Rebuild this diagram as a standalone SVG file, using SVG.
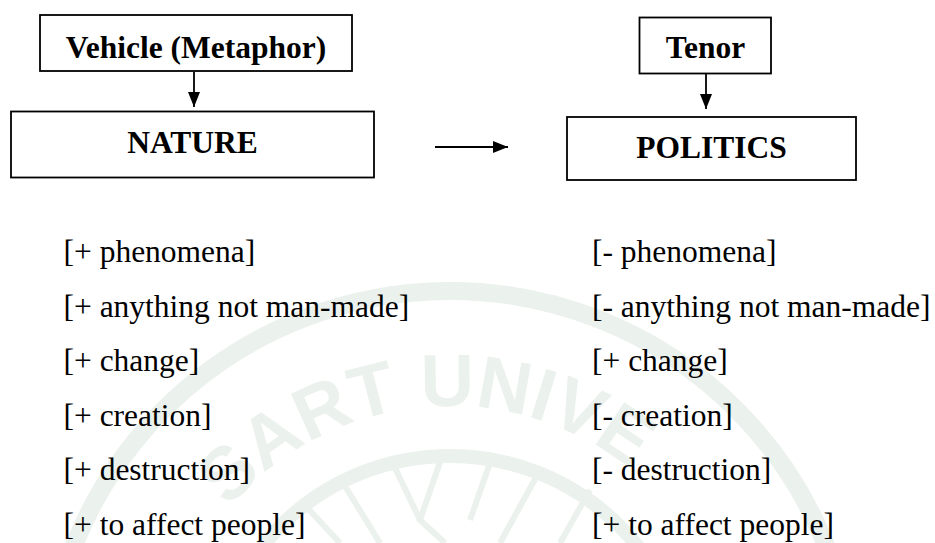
<svg xmlns="http://www.w3.org/2000/svg" width="935" height="543" viewBox="0 0 935 543">
  <style>
    .box { fill: none; stroke: #000; stroke-width: 1.8; }
    .head { font-family: "Liberation Serif", "Times New Roman", serif; font-weight: bold; font-size: 31.5px; fill: #000; text-anchor: middle; }
    .item { font-family: "Liberation Serif", "Times New Roman", serif; font-size: 31.5px; fill: #000; }
    .wire { stroke: #000; stroke-width: 1.8; fill: none; }
    .seal { fill: none; stroke: #ebf1ec; }
    .sealtext { font-family: "Liberation Sans", Arial, sans-serif; font-weight: bold; font-size: 74px; fill: #ebf1ec; text-anchor: middle; }
  </style>
  <defs>
    <marker id="arrow" markerUnits="userSpaceOnUse" markerWidth="16" markerHeight="14" refX="15" refY="6" orient="auto">
      <path d="M0,0 L15,6 L0,12 Z" fill="#000"/>
    </marker>
    <path id="sealArc" d="M160,696 A290,290 0 0 1 740,696"/>
  </defs>

  <rect width="935" height="543" fill="#fff"/>

  <!-- faint seal in the background -->
  <g id="seal">
    <circle class="seal" cx="450" cy="696" r="405" stroke-width="18"/>
    <circle class="seal" cx="450" cy="696" r="240" stroke-width="14"/>
    <text class="sealtext"><textPath href="#sealArc" startOffset="47%">SART UNIVE</textPath></text>
    <path class="seal" stroke-width="6" d="M300,500 L340,543 M340,478 L380,543 M395,468 L420,520 M440,462 L420,520 L445,543 M490,463 L470,520 M540,470 L500,543 M590,490 L560,543"/>
  </g>

  <!-- nodes -->
  <g id="vehicle">
    <rect class="box" x="40" y="15" width="312" height="56"/>
    <text class="head" x="196" y="58">Vehicle (Metaphor)</text>
  </g>
  <g id="nature">
    <rect class="box" x="11" y="111.5" width="363" height="66"/>
    <text class="head" x="192.5" y="153">NATURE</text>
  </g>
  <g id="tenor">
    <rect class="box" x="639.5" y="17.5" width="131.5" height="56"/>
    <text class="head" x="705.5" y="58">Tenor</text>
  </g>
  <g id="politics">
    <rect class="box" x="567" y="117" width="289" height="63"/>
    <text class="head" x="711.5" y="157.5">POLITICS</text>
  </g>

  <!-- connectors -->
  <g id="connectors">
    <line class="wire" x1="194" y1="72" x2="194" y2="107" marker-end="url(#arrow)"/>
    <line class="wire" x1="706" y1="74" x2="706" y2="109" marker-end="url(#arrow)"/>
    <line class="wire" x1="435" y1="147" x2="508" y2="147" marker-end="url(#arrow)"/>
  </g>

  <!-- feature lists -->
  <g id="nature-features" class="item">
    <text x="63.5" y="262">[+ phenomena]</text>
    <text x="63.5" y="316.6">[+ anything not man-made]</text>
    <text x="63.5" y="371.2">[+ change]</text>
    <text x="63.5" y="425.8">[+ creation]</text>
    <text x="63.5" y="480.4">[+ destruction]</text>
    <text x="63.5" y="535">[+ to affect people]</text>
  </g>
  <g id="politics-features" class="item">
    <text x="592" y="262">[- phenomena]</text>
    <text x="592" y="316.6">[- anything not man-made]</text>
    <text x="592" y="371.2">[+ change]</text>
    <text x="592" y="425.8">[- creation]</text>
    <text x="592" y="480.4">[- destruction]</text>
    <text x="592" y="535">[+ to affect people]</text>
  </g>
</svg>
